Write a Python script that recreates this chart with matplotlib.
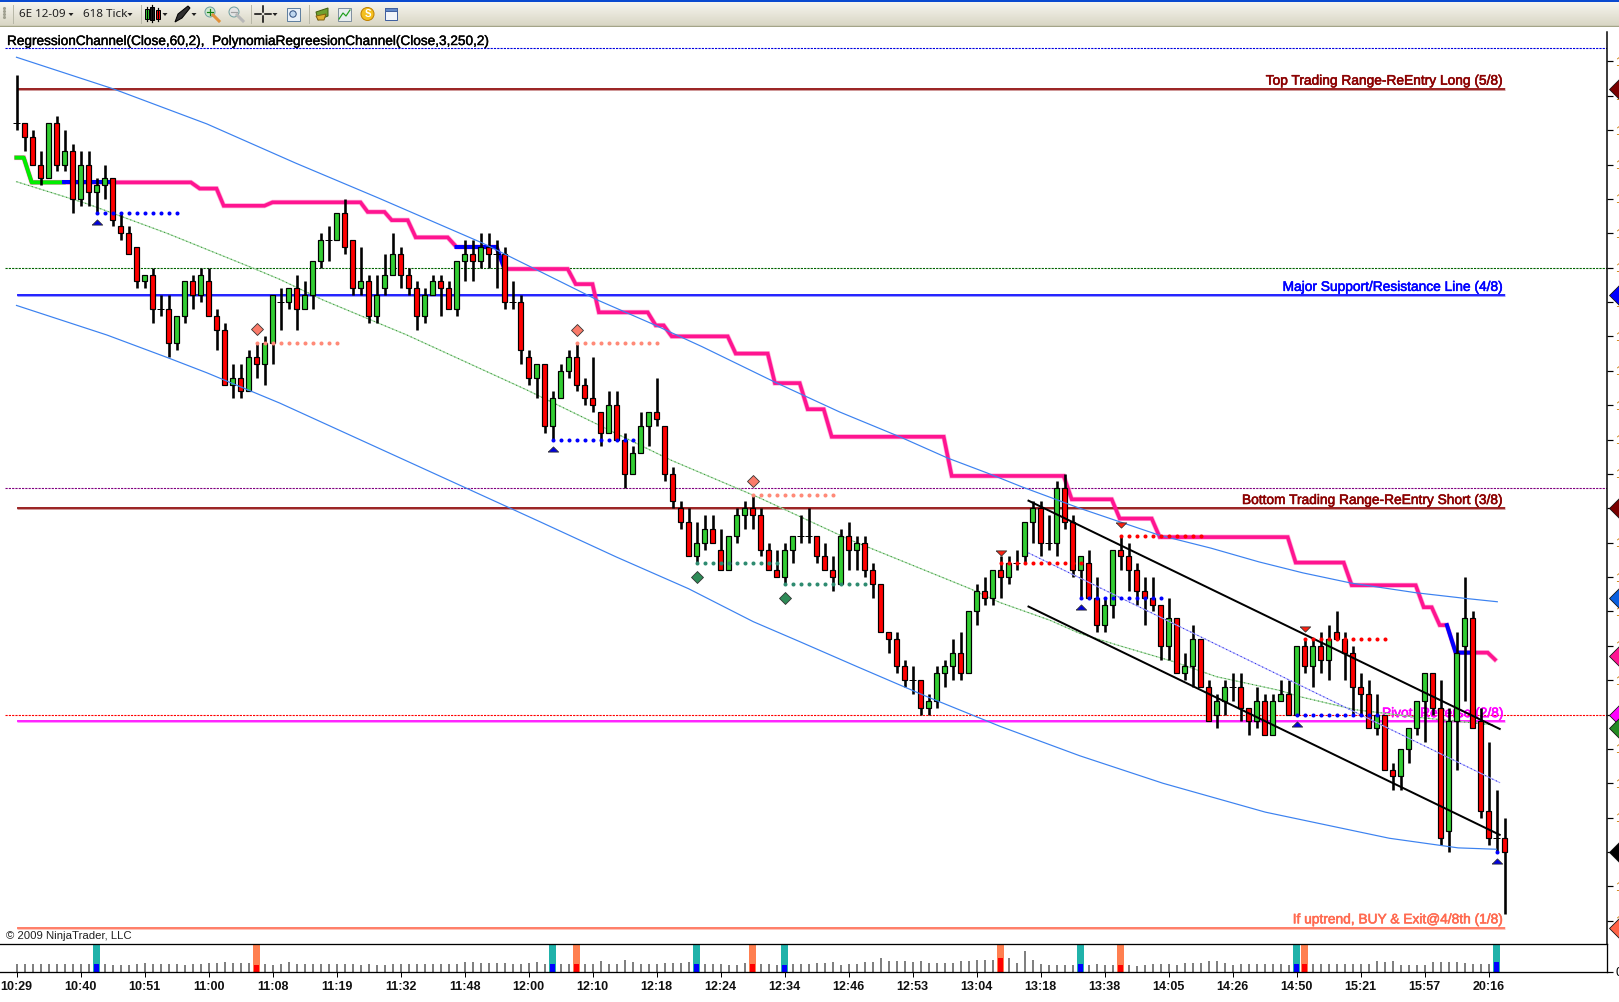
import matplotlib
matplotlib.use('Agg')
import matplotlib.pyplot as plt
import matplotlib.patheffects as pe
from matplotlib.patches import Rectangle, Circle, Polygon
import numpy as np

plt.rcParams['font.family'] = ['Liberation Sans', 'DejaVu Sans']

W, H = 1619, 1002
BASE = 1.47
PIP = 0.0001

## candles, in pips away from BASE ##
opens = [26, 26, 24, 20, 18, 26, 20, 22, 15, 20, 16, 17, 18, 11, 10, 8, 3, 4, -1, -1,
         -6, -2, 3, 1, 3, -2, -4, -12, -11, -13, -8, -9, -6, 0, 0, 2, -1, 1, 6, 9,
         9, 13, 9, 2, 3, -2, 2, 4, 7, 4, 2, -2, 1, 3, 2, -1, 6, 7, 6, 8,
         7, 7, 0, 0, -8, -11, -9, -18, -14, -10, -8, -12, -14, -16, -19, -15, -20, -25, -22, -18,
         -16, -18, -25, -30, -32, -37, -35, -33, -36, -39, -34, -31, -30, -31, -36, -39, -40, -36, -34, -34,
         -34, -37, -39, -41, -34, -36, -35, -39, -41, -48, -49, -53, -55, -55, -59, -58, -54, -53, -51, -54,
         -45, -42, -43, -39, -40, -38, -37, -32, -30, -35, -35, -27, -32, -39, -38, -43, -47, -44, -36, -37,
         -39, -42, -43, -44, -50, -46, -54, -53, -49, -56, -60, -58, -56, -56, -59, -61, -58, -63, -58, -57,
         -60, -50, -53, -50, -52, -48, -49, -51, -56, -57, -62, -60, -68, -69, -65, -62, -58, -54, -59, -77,
         -61, -50, -46, -61, -74, -78, -78]
highs = [33, 26, 25, 22, 26, 27, 25, 23, 22, 22, 18, 20, 18, 13, 11, 8, 4, 5, 1, 1,
         -2, 3, 4, 5, 5, -1, -3, -9, -9, -7, -6, -5, 1, 2, 2, 4, 3, 6, 10, 11,
         13, 15, 9, 8, 4, 4, 7, 10, 8, 5, 3, 2, 4, 4, 3, 6, 9, 9, 10, 10,
         9, 8, 3, 1, -7, -9, -9, -13, -9, -7, -6, -11, -8, -16, -13, -13, -19, -21, -16, -16,
         -11, -18, -24, -29, -30, -32, -31, -31, -33, -34, -30, -29, -28, -30, -35, -36, -35, -34, -31, -30,
         -34, -35, -37, -33, -32, -34, -34, -38, -41, -48, -48, -52, -53, -55, -57, -53, -52, -49, -48, -45,
         -41, -40, -39, -37, -37, -36, -32, -29, -29, -31, -26, -25, -31, -37, -36, -40, -43, -36, -34, -35,
         -38, -40, -40, -44, -43, -46, -51, -47, -49, -55, -57, -55, -54, -54, -59, -56, -57, -57, -55, -55,
         -50, -49, -49, -48, -47, -45, -48, -50, -54, -55, -57, -60, -67, -65, -62, -58, -54, -54, -55, -59,
         -48, -40, -45, -59, -64, -71, -75]
lows = [25, 22, 20, 17, 18, 19, 19, 13, 14, 14, 13, 15, 11, 9, 7, 2, 2, -3, -2, -8,
        -7, -3, -1, 0, -2, -7, -12, -14, -14, -13, -11, -12, -9, -4, -1, -4, -1, -1, 5, 6,
        9, 7, 1, 1, -3, -3, 1, 4, 2, 1, -4, -3, 1, -2, -1, -2, 3, 3, 5, 5,
        2, -1, -1, -9, -12, -14, -19, -20, -14, -11, -13, -15, -16, -21, -19, -20, -27, -25, -22, -21,
        -18, -26, -30, -33, -37, -38, -36, -35, -39, -39, -35, -33, -33, -37, -39, -40, -41, -38, -35, -35,
        -38, -39, -42, -41, -39, -39, -40, -43, -48, -51, -54, -56, -57, -60, -60, -59, -56, -55, -55, -54,
        -47, -44, -44, -43, -41, -39, -38, -35, -37, -36, -37, -33, -40, -43, -43, -48, -48, -46, -39, -42,
        -44, -47, -45, -52, -52, -54, -55, -56, -56, -61, -62, -60, -58, -61, -63, -62, -63, -63, -58, -60,
        -60, -54, -56, -54, -55, -49, -55, -60, -60, -62, -63, -68, -71, -71, -67, -63, -64, -60, -79, -80,
        -68, -58, -62, -75, -79, -80, -89]
closes = [26, 24, 20, 18, 26, 20, 22, 15, 20, 16, 17, 18, 12, 10, 7, 3, 4, -1, -1, -6,
          -2, 3, 1, 4, -2, -4, -12, -11, -13, -8, -9, -6, 1, 0, 2, -1, 1, 6, 9, 9,
          13, 8, 2, 3, -2, 1, 4, 7, 4, 2, -2, 1, 3, 2, -1, 6, 7, 6, 8, 7,
          7, 0, 0, -7, -11, -9, -18, -14, -10, -8, -12, -14, -15, -19, -15, -20, -25, -22, -18, -16,
          -17, -25, -29, -32, -37, -35, -33, -35, -39, -34, -31, -30, -31, -36, -39, -40, -36, -34, -34, -34,
          -37, -39, -40, -34, -36, -35, -39, -41, -48, -49, -53, -55, -55, -59, -58, -54, -53, -51, -54, -45,
          -42, -43, -39, -40, -38, -38, -32, -30, -35, -35, -27, -32, -39, -37, -43, -47, -44, -36, -37, -39,
          -42, -43, -44, -50, -46, -54, -53, -49, -56, -61, -58, -56, -56, -59, -61, -58, -63, -58, -57, -60,
          -50, -53, -50, -52, -49, -49, -51, -56, -57, -62, -60, -68, -69, -65, -62, -58, -54, -59, -78, -61,
          -51, -46, -62, -74, -78, -78, -80]

## volume panel ##
volumes = [8, 8, 8, 8, 8, 8, 8, 8, 8, 8, 8, 8, 7, 7, 7, 8, 9, 8, 8, 8,
           8, 7, 8, 8, 9, 9, 10, 9, 9, 9, 7, 8, 7, 8, 10, 8, 8, 8, 8, 8,
           8, 8, 8, 7, 8, 7, 7, 8, 8, 8, 8, 8, 8, 8, 8, 8, 10, 10, 9, 9,
           9, 9, 8, 8, 9, 10, 8, 8, 8, 8, 8, 8, 8, 11, 8, 8, 12, 10, 8, 8,
           8, 9, 9, 9, 10, 8, 8, 8, 8, 7, 7, 9, 8, 8, 8, 7, 7, 8, 8, 8,
           9, 9, 10, 7, 8, 8, 10, 10, 14, 11, 11, 11, 10, 11, 9, 9, 9, 9, 11, 11,
           12, 12, 12, 14, 14, 9, 21, 12, 8, 7, 7, 7, 7, 8, 7, 8, 7, 7, 7, 7,
           6, 7, 8, 8, 8, 7, 9, 9, 9, 11, 11, 9, 7, 8, 8, 8, 8, 8, 8, 7,
           8, 8, 8, 8, 8, 8, 8, 8, 8, 8, 11, 10, 11, 7, 7, 7, 7, 10, 10, 10,
           10, 9, 8, 8, 8, 10, 0]
buy_columns = [10, 67, 85, 96, 133, 160, 185]
sell_columns = [30, 70, 92, 123, 138, 161]

xtick_labels = ['10:29', '10:40', '10:51', '11:00', '11:08', '11:19', '11:32', '11:48',
                '12:00', '12:10', '12:18', '12:24', '12:34', '12:46', '12:53', '13:04',
                '13:18', '13:38', '14:05', '14:26', '14:50', '15:21', '15:57', '20:16']

## murrey style levels (pips, label, colour) ##
level_pips = [31, 1, -30, -61, -91]
level_names = ['Top Trading Range-ReEntry Long (5/8)', 'Major Support/Resistance Line (4/8)',
               'Bottom Trading Range-ReEntry Short (3/8)', 'Pivot, Reverse (2/8)',
               'If uptrend, BUY & Exit@4/8th (1/8)']
level_colors = ['#8b0000', '#0000ff', '#8b0000', '#ff00ff', '#ff6a50']

## thin dotted lines over the full width ##
dotted_pips = [37, 5, -27, -60]
dotted_colors = ['#0000e0', '#006400', '#800080', '#ff0000']

## polynomial channel ##
upper_x = [0, 12.1, 23.8, 34.9, 45.3, 58.2, 65.5, 72.6, 79.7, 85.7, 94.7, 102.9, 110.4, 116.4, 121.4,
           125.7, 132.9, 142.8, 149.3, 155.3, 160.8, 166.9, 175, 181, 185.1]
upper_y = [35.6, 31, 25.9, 20.2, 15.1, 8.6, 4.4, 0.3, -3.3, -6.5, -11.6, -16, -19.6, -22.7, -24.9,
           -26.9, -30, -33.9, -35.8, -37.8, -39.4, -40.9, -42.3, -43.1, -43.6]
lower_x = [0, 11.3, 18.9, 23.8, 32.9, 65.5, 75, 84, 92.1, 97.9, 105, 113.8, 122.9, 132.9, 143.3,
           156.1, 171.6, 180.2, 185]
lower_y = [-0.5, -4.8, -8.1, -10.3, -14.7, -32, -37.1, -41.7, -46.5, -49.4, -53, -57.4, -61.7, -66, -70,
           -74.2, -78, -79.4, -79.6]
middle_x = [0, 8.8, 18.8, 29.2, 32.9, 38.3, 48.8, 63.8, 81.8, 92.9, 104.2, 119.2, 122.9, 129.2, 132.9,
            137.6, 144.6, 150, 157.9, 160.4, 167.3, 175.9, 184.5]
middle_y = [17.5, 14.3, 10, 5.1, 3.3, 0.3, -4.8, -12.8, -23, -28.5, -34.6, -41.7, -43.7, -46.3, -48.2,
            -49.9, -52.3, -54.5, -56.5, -57.4, -59.3, -60.5, -61.5]

## linear channel ##
linear_x = [126.5, 185.4]
linear_top = [-28.9, -62.1]
linear_mid = [-36.5, -69.9]
linear_bottom = [-44.3, -77.5]

## stop line ##
stop_x = [0, 0.9, 1.9, 5.9, 11.7, 21.8, 22.9, 25, 25.9, 31, 32, 43, 43.9, 46, 46.9, 48.9, 49.9, 53.9, 55,
          60, 61, 68.9, 69.9, 72, 72.8, 78.9, 79.9, 80.9, 81.9, 88.9, 89.9, 93.9, 94.8, 97.9, 98.9, 100.9,
          101.9, 115.9, 116.9, 130.9, 131.9, 136.9, 137.9, 141.9, 142.9, 158.9, 159.9, 165.9, 166.9, 174.9,
          175.9, 176.9, 177.9, 178.8, 179.9, 181.9, 183.9, 184.8]
stop_y = [21, 21, 17.4, 17.4, 17.4, 17.4, 16.5, 16.5, 14, 14, 14.5, 14.5, 13.1, 13.1, 11.9, 11.9, 9.4, 9.4, 8,
          8, 4.8, 4.8, 2.6, 2.6, -1.5, -1.5, -3.4, -3.4, -5, -5, -7.5, -7.5, -11.8, -11.8, -15.6, -15.6,
          -19.6, -19.6, -25.3, -25.3, -28.7, -28.7, -31.5, -31.5, -34.2, -34.2, -37.9, -37.9, -41.2, -41.2,
          -44.4, -44.4, -47, -47, -51, -51, -51, -52]
stop_green = [(0, 3)]
stop_blue = [(3, 4), (18, 20), (53, 55)]

## signals: bar, marker pips, dots pips, last dot bar, kind ##
signal_bars = [10, 30, 67, 70, 85, 92, 96, 123, 133, 138, 160, 161, 185]
signal_marks = [11.6, -3.9, -21.4, -4, -40, -26, -43, -36.5, -44.4, -32.5, -61.4, -47.6, -81.3]
signal_dots = [13, -6, -20, -6, -38, -28, -41, -38, -43, -34, -60, -49, -80]
signal_ends = [20, 40, 77, 80, 95, 102, 106, 133, 143, 148, 170, 171, 185]
signal_kinds = ['buy', 'sell', 'buy', 'sell', 'green', 'sell', 'green', 'red', 'buy', 'red', 'buy', 'red', 'buy']

## value tags on the price axis ##
tag_pips = [31, 1, -30, -43, -51.5, -60, -62, -80, -91]
tag_colors = ['#7a0000', '#0000ff', '#7a0000', '#0a60e0', '#ff1493', '#ff00ff', '#228b22', '#000000', '#ff6347']


def price(p):
    return BASE + np.asarray(p, dtype=float) * PIP


def px(n):
    # pixels to points
    return n * 0.72


fig = plt.figure(figsize=(W / 100, H / 100), dpi=100, facecolor='white')

x_left = -16.5 / 8
x_right = (1607 - 16.5) / 8
ax = fig.add_axes([0, (H - 944) / H, 1607 / W, (944 - 32) / H])
ax.set_xlim(x_left, x_right)
ax.set_ylim(price(-(944 - 302) / 6.875), price((302 - 32) / 6.875))
for s in ['top', 'left', 'bottom']:
    ax.spines[s].set_visible(False)
ax.spines['right'].set_linewidth(px(1.5))
ax.set_xticks([])
ax.yaxis.tick_right()
ytick_pips = np.arange(-90, 36, 5)
ax.set_yticks(price(ytick_pips))
ax.set_yticklabels(['%.4f' % v for v in price(ytick_pips)], fontsize=9, color='#c87800')
ax.tick_params(axis='y', length=px(6), width=px(1.2), pad=px(2))

# dotted lines
for p, c in zip(dotted_pips, dotted_colors):
    ax.hlines(price(p), -1.44, x_right, color=c, lw=px(1.1), linestyles=(0, (2, 1)), zorder=1)

# levels with a lighter edge
for p, name, c in zip(level_pips, level_names, level_colors):
    ax.hlines(price(p), 0, 186, color=c, lw=px(3), alpha=0.4, zorder=1.2)
    ax.hlines(price(p), 0, 186, color=c, lw=px(1.5), zorder=1.3)
    t = ax.annotate(name, (185.9, price(p)), xytext=(0, 0.9), textcoords='offset points',
                    ha='right', va='bottom', color=c, fontsize=9.9, zorder=1.4)
    t.set_path_effects([pe.withStroke(linewidth=0.4, foreground=c)])

# stop line
ax.plot(stop_x, price(stop_y), color='#ff1493', lw=px(5), alpha=0.35, zorder=2, solid_joinstyle='miter')
ax.plot(stop_x, price(stop_y), color='#ff1490', lw=px(3.6), zorder=2.1, solid_joinstyle='miter')
for a, b in stop_green:
    ax.plot(stop_x[a:b + 1], price(stop_y[a:b + 1]), color='#00ee00', lw=px(4), zorder=2.2)
for a, b in stop_blue:
    ax.plot(stop_x[a:b + 1], price(stop_y[a:b + 1]), color='#0000ff', lw=px(4), zorder=2.2)

# candles
bars = np.arange(len(opens))
o = np.array(opens)
h = np.array(highs)
l = np.array(lows)
c = np.array(closes)
ax.vlines(bars, price(l), price(h), color='black', lw=px(2.6), zorder=3)
body_colors = ['#32cd32' if b > a else '#ff0000' for a, b in zip(o, c)]
solid = o != c
ax.bar(bars[solid], price(np.abs(c - o)[solid]) - BASE, bottom=price(np.minimum(o, c)[solid]), width=0.72,
       color=[k for k, f in zip(body_colors, solid) if f], edgecolor='black', linewidth=px(1.2), zorder=3.2)
ax.hlines(price(o[~solid]), bars[~solid] - 0.42, bars[~solid] + 0.42, color='black', lw=px(1), zorder=3.1)

# channels
ax.plot(upper_x, price(upper_y), color='#3c82f0', lw=px(1.2), zorder=4)
ax.plot(lower_x, price(lower_y), color='#3c82f0', lw=px(1.2), zorder=4)
ax.plot(middle_x, price(middle_y), color='#a8dca8', lw=px(1.2), zorder=2.5)
ax.plot(middle_x, price(middle_y), color='#2e8b2e', lw=px(1), linestyle=(0, (1, 3)), zorder=2.6)
ax.plot(linear_x, price(linear_top), color='black', lw=px(2), zorder=4.2)
ax.plot(linear_x, price(linear_bottom), color='black', lw=px(2), zorder=4.2)
ax.plot(linear_x, price(linear_mid), color='#b0b0ff', lw=px(1.1), zorder=4)
ax.plot(linear_x, price(linear_mid), color='#2020e0', lw=px(1), linestyle=(0, (1, 3)), zorder=4.1)

# signals
flat_up = [(-1, -0.5), (1, -0.5), (0, 0.5), (-1, -0.5)]
flat_down = [(-1, 0.5), (1, 0.5), (0, -0.5), (-1, 0.5)]
dot_color = {'buy': '#0000ff', 'sell': '#ff8a78', 'green': '#2e8b70', 'red': '#ff0000'}
mark_shape = {'buy': flat_up, 'sell': 'D', 'green': 'D', 'red': flat_down}
mark_color = {'buy': '#0000e0', 'sell': '#fa7b6a', 'green': '#2e8b57', 'red': '#ff2010'}
for n, m, d, e, k in zip(signal_bars, signal_marks, signal_dots, signal_ends, signal_kinds):
    xs = np.arange(n, e + 1)
    ax.scatter(xs, price(np.full(len(xs), d)), s=8.5, color=dot_color[k], linewidths=0, zorder=5)
    ms = 6.6 if mark_shape[k] == 'D' else 7.5
    ax.plot([n], [price(m)], marker=mark_shape[k], ms=ms, mfc=mark_color[k], mec='#303030',
            mew=px(0.8), ls='none', zorder=5.1)

# tags, half cut off by the picture edge
for p, k in zip(tag_pips, tag_colors):
    ax.plot([x_right + 1.5], [price(p)], marker='D', ms=10, mfc=k, mec='#101010', mew=px(0.8),
            ls='none', clip_on=False, zorder=6)

fig.text(6 / W, 1 - 936 / H, '\u00a9 2009 NinjaTrader, LLC', fontsize=8.2, color='#202020', va='center')
head = fig.text(7 / W, 1 - 41 / H, 'RegressionChannel(Close,60,2),  PolynomiaRegreesionChannel(Close,3,250,2)',
                fontsize=9.8, color='black', va='center')
head.set_path_effects([pe.withStroke(linewidth=0.3, foreground='black')])

## volume ##
vax = fig.add_axes([0, (H - 972) / H, 1607 / W, 28 / H])
vax.set_xlim(x_left, x_right)
vax.set_ylim(0, 28)
for s in vax.spines.values():
    s.set_linewidth(px(1.3))
vax.spines['left'].set_visible(False)
vax.bar(buy_columns, [28] * len(buy_columns), width=0.95, color='#20b2aa', zorder=1)
vax.bar(sell_columns, [28] * len(sell_columns), width=0.95, color='#ff7f50', zorder=1)
marked = set(buy_columns) | set(sell_columns)
plain = [i for i in bars if i not in marked]
vax.bar(plain, [volumes[i] for i in plain], width=0.25, color='#808080', zorder=2)
vax.bar(buy_columns, [volumes[i] for i in buy_columns], width=0.6, color='#0000ff', zorder=2)
vax.bar(sell_columns, [volumes[i] for i in sell_columns], width=0.6, color='#ff0000', zorder=2)
vax.set_xticks(np.arange(0, 8 * len(xtick_labels), 8))
vax.set_xticklabels(xtick_labels, fontsize=9, fontweight='bold', color='#101010')
vax.tick_params(axis='x', length=px(5), width=px(1), pad=px(4))
vax.yaxis.tick_right()
vax.set_yticks([0])
vax.set_yticklabels(['0'], fontsize=9)
vax.tick_params(axis='y', length=px(6), width=px(1.2), pad=px(2))

## toolbar, drawn in pixel coordinates ##
tb = fig.add_axes([0, 1 - 27 / H, 1, 27 / H])
tb.axis('off')
shade = np.linspace(0, 1, 24)[:, None, None]
shade = np.array([0.965, 0.96, 0.935]) * (1 - shade) + np.array([0.85, 0.84, 0.77]) * shade
tb.imshow(shade, extent=(0, W, 26, 2), aspect='auto', zorder=0)
tb.set_xlim(0, W)
tb.set_ylim(27, 0)
tb.add_patch(Rectangle((0, 0), W, 2, color='#0a4ad0', lw=0))
tb.plot([0, W], [26.3, 26.3], color='#a4a488', lw=px(1.4))
for sx in [13, 141, 251, 309]:
    tb.plot([sx, sx], [5, 23], color='#b8b8a8', lw=px(1))
tb.scatter([4, 4, 4, 4], [8, 11, 14, 17], s=1.5, color='#a0a090')
tb.text(19, 14.5, '6E 12-09', fontsize=8.4, va='center', color='#202020', family='Noto Sans')
tb.text(83, 14.5, '618 Tick', fontsize=8.4, va='center', color='#202020', family='Noto Sans')
for ax0 in [71, 130, 165, 194, 275]:
    tb.add_patch(Polygon([(ax0 - 2.5, 13), (ax0 + 2.5, 13), (ax0, 16)], color='#202020', lw=0))
for ix, ic, y0, y1 in [(147, '#32cd32', 9, 19), (152, '#202020', 7, 20), (158, '#ff0000', 10, 19)]:
    tb.plot([ix, ix], [y0 - 2, y1 + 2], color='black', lw=px(1.2))
    tb.add_patch(Rectangle((ix - 2, y0), 4, y1 - y0, fc=ic, ec='black', lw=px(1)))
tb.add_patch(Polygon([(175, 22), (178, 14), (188, 6), (190, 8), (182, 18)], fc='#303030', ec='black', lw=px(1)))
for mx, mc, hc in [(210, '#cfe8cf', '#e0903a'), (234, '#e4e4e4', '#b8b8b8')]:
    tb.plot([mx + 3, mx + 9], [15, 21], color=hc, lw=px(3))
    tb.add_patch(Circle((mx, 12), 5, fc=mc, ec='#70a0a0', lw=px(1)))
tb.plot([210 - 3, 210 + 3], [12, 12], color='#108010', lw=px(1.2))
tb.plot([210, 210], [9, 15], color='#108010', lw=px(1.2))
tb.plot([234 - 3, 234 + 3], [12, 12], color='#a0a0a0', lw=px(1.2))
tb.plot([255, 261, None, 265, 271], [14, 14, None, 14, 14], color='black', lw=px(1.5))
tb.plot([263, 263, None, 263, 263], [6, 12, None, 16, 22], color='black', lw=px(1.5))
tb.add_patch(Rectangle((287, 8), 13, 13, fc='#e8f0f8', ec='#6080a0', lw=px(1)))
tb.add_patch(Circle((293, 14), 3.2, fc='#c0d8f0', ec='#305080', lw=px(1)))
tb.add_patch(Polygon([(316, 12), (328, 8), (328, 16), (318, 20)], fc='#70a030', ec='#406010', lw=px(1)))
tb.add_patch(Polygon([(316, 16), (326, 14), (324, 20), (318, 20)], fc='#e0b030', ec='#806010', lw=px(1)))
tb.add_patch(Rectangle((338, 8), 13, 13, fc='#e8eef0', ec='#8090a0', lw=px(1)))
tb.plot([339, 343, 346, 350], [19, 13, 16, 10], color='#20a020', lw=px(1.2))
tb.add_patch(Circle((367.5, 14), 6.5, fc='#f4c020', ec='#c08000', lw=px(1)))
tb.text(367.5, 14.3, 'S', fontsize=7, fontweight='bold', color='white', ha='center', va='center')
tb.add_patch(Rectangle((385, 8), 12, 12, fc='#f0f4fa', ec='#4060a0', lw=px(1)))
tb.add_patch(Rectangle((385, 8), 12, 3, fc='#6088c8', ec='#4060a0', lw=px(1)))

fig.savefig('out.png', dpi=100, facecolor='white')
